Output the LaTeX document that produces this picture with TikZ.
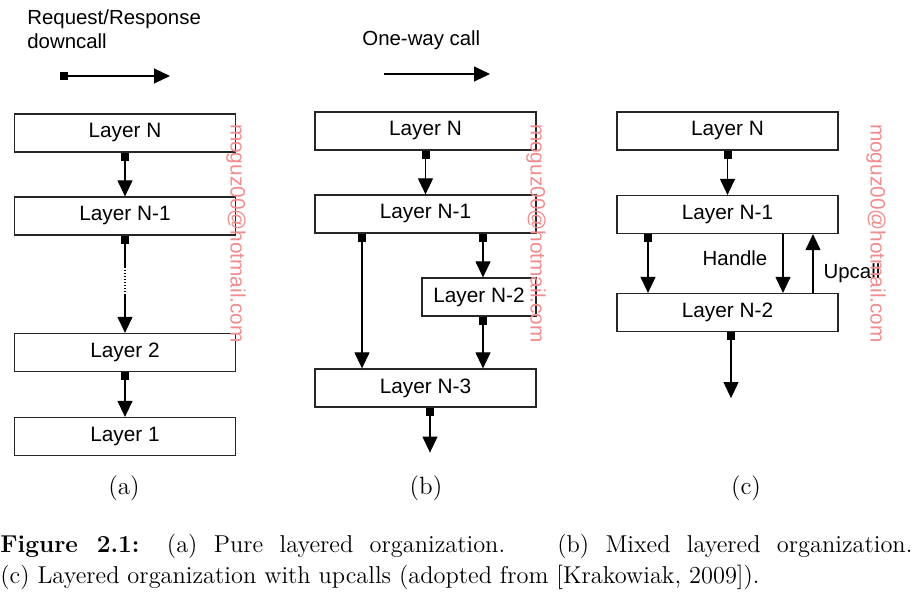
\documentclass[tikz,border=0pt]{standalone}
\usepackage{fontspec}
\usepackage{amsmath, amssymb}
\usetikzlibrary{arrows.meta, calc}
\newfontfamily\diagfont{Liberation Sans}
\definecolor{wmark}{RGB}{242,140,140}

\begin{document}
\begin{tikzpicture}
[x=0.5pt, y=-0.5pt,
layer/.style={rectangle, draw=black!85, line width=0.6pt, minimum width=110.5pt, minimum height=19pt, inner sep=0pt, font=\diagfont\fontsize{10.4}{12}\selectfont},
call/.style={line width=0.55pt, {Square[length=4pt,width=4pt]}-{Triangle[length=8pt,width=7.5pt]}},
plain/.style={line width=0.55pt, -{Triangle[length=8pt,width=7.5pt]}},
lbl/.style={font=\diagfont\fontsize{10.2}{12}\selectfont, inner sep=0pt},
sub/.style={font=\fontsize{12.5}{15}\selectfont, inner sep=0pt},
watermark/.style={rotate=-90, text=wmark, inner sep=0pt, font=\diagfont\fontsize{10.4}{12}\selectfont}]
\useasboundingbox (0,0) rectangle (916,598);

% legends
\node[lbl, anchor=north west, align=left] (lgA) at (27,9) {Request/Response\\downcall};
\coordinate (lgAs) at (60,76);
\coordinate (lgAe) at (170,76);
\draw[call] (lgAs) -- (lgAe);
\node[lbl, anchor=west] (lgB) at (362,40) {One-way call};
\coordinate (lgBs) at (384,74);
\coordinate (lgBe) at (490,74);
\draw[plain] (lgBs) -- (lgBe);

% (a) pure layering
\node[layer] (aN)  at (125,133) {Layer N};
\node[layer] (aN1) at (125,216) {Layer N-1};
\node[layer] (a2)  at (125,352.5) {Layer 2};
\node[layer] (a1)  at (125,436.5) {Layer 1};
\draw[call] (aN.south) -- (aN1.north);
\draw[line width=0.55pt, {Square[length=4pt,width=4pt]}-] (aN1.south) -- ++(0,31) coordinate (ad1);
\draw[line width=0.55pt, densely dotted] (ad1) -- ++(0,28) coordinate (ad2);
\draw[plain] (ad2) -- (a2.north);
\draw[call] (a2.south) -- (a1.north);

% (b) mixed layering
\node[layer] (bN)  at (425.5,131) {Layer N};
\node[layer] (bN1) at (425.5,214) {Layer N-1};
\node[layer, minimum width=57pt] (bN2) at (479,297) {Layer N-2};
\node[layer] (bN3) at (425.5,388) {Layer N-3};
\draw[call] (bN.south) -- (bN1.north);
\coordinate (bl) at ($(bN1.south)+(-63.5,0)$);
\coordinate (br) at ($(bN1.south)+(57.5,0)$);
\draw[call] (bl) -- (bl |- bN3.north);
\draw[call] (br) -- (br |- bN2.north);
\coordinate (br2) at (br |- bN2.south);
\draw[call] (br2) -- (br2 |- bN3.north);
\draw[call] ($(bN3.south)+(4.5,0)$) -- ++(0,45);

% (c) layering with upcalls
\node[layer] (cN)  at (727.5,131) {Layer N};
\node[layer] (cN1) at (727.5,214.5) {Layer N-1};
\node[layer] (cN2) at (727.5,312.5) {Layer N-2};
\draw[call] (cN.south) -- (cN1.north);
\coordinate (cl) at ($(cN1.south)+(-79.5,0)$);
\coordinate (ch) at ($(cN1.south)+(55.5,0)$);
\coordinate (cu) at ($(cN1.south)+(85.5,0)$);
\draw[call] (cl) -- (cl |- cN2.north);
\draw[plain] (ch) -- (ch |- cN2.north);
\draw[plain] (cu |- cN2.north) -- (cu);
\node[lbl] (hdl) at (735,258) {Handle};
\node[lbl] (upc) at (852,273) {Upcall};
\draw[call] ($(cN2.south)+(3.5,0)$) -- ++(0,66);

% watermarks
\node[watermark] (wa) at (236,233.5) {moguz00@hotmail.com};
\node[watermark] (wb) at (536,233.5) {moguz00@hotmail.com};
\node[watermark] (wc) at (876,233.5) {moguz00@hotmail.com};

% sub labels and caption
\node[sub] (sa) at (124,488) {(a)};
\node[sub] (sb) at (426,488) {(b)};
\node[sub] (sc) at (746,488) {(c)};
\node[anchor=north west, inner sep=0pt, text width=456pt, align=justify, font=\fontsize{12.2}{15.5}\selectfont] (cap) at (0,534)
  {\textbf{Figure 2.1:} (a) Pure layered organization. \ (b) Mixed layered organization.\linebreak
   (c) Layered organization with upcalls (adopted from [Krakowiak, 2009]).};
\end{tikzpicture}
\end{document}
